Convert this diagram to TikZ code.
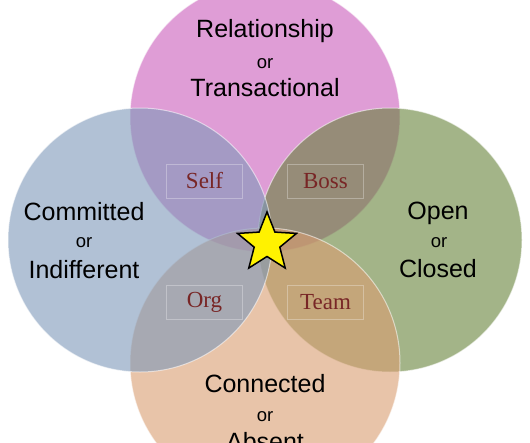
\documentclass[tikz,border=0pt]{standalone}
\usepackage{fontspec}
\setmainfont{Liberation Sans}
\newfontfamily\serifa{Liberation Serif}
\usetikzlibrary{shapes.geometric}
\definecolor{rosa}{RGB}{203,93,187}
\definecolor{azzurro}{RGB}{125,152,185}
\definecolor{verde}{RGB}{102,130,58}
\definecolor{pesca}{RGB}{218,157,113}
\definecolor{rosso}{RGB}{120,38,38}
\tikzset{
  cerchio/.style={fill opacity=0.6, draw=white, draw opacity=0.55, line width=1pt},
  titolo/.style={anchor=base, font=\fontsize{25}{25}\selectfont},
  oppure/.style={anchor=base, font=\fontsize{18.5}{18.5}\selectfont},
  zona/.style={draw=white, draw opacity=0.3, line width=0.6pt, minimum width=76pt, minimum height=34pt, inner sep=0pt, text=rosso, font=\serifa\fontsize{23}{23}\selectfont},
}
\begin{document}
\begin{tikzpicture}[x=1pt,y=-1pt]
        \useasboundingbox (0,0) rectangle (530,442);
        \clip (0,0) rectangle (530,442);
        \fill[white] (0,0) rectangle (530,442);
        % cerchi
        \filldraw[cerchio, fill=rosa] (265,117) circle (135);
        \filldraw[cerchio, fill=verde] (390,240) circle (132);
        \filldraw[cerchio, fill=pesca] (265,363) circle (135);
        \filldraw[cerchio, fill=azzurro] (140,240) circle (132);
        % titoli
        \node[titolo] (rel) at (265,37) {Relationship};
        \node[oppure] (relor) at (265,68) {or};
        \node[titolo] (tra) at (265,96) {Transactional};

        \node[titolo] (com) at (84,220) {Committed};
        \node[oppure] (comor) at (84,247) {or};
        \node[titolo] (ind) at (84,278) {Indifferent};

        \node[titolo] (ope) at (438,219) {Open};
        \node[oppure] (opeor) at (439,247) {or};
        \node[titolo] (clo) at (438,277) {Closed};

        \node[titolo] (con) at (265,392) {Connected};
        \node[oppure] (conor) at (265,421) {or};
        \node[titolo] (abs) at (265,450) {Absent};
        % zone
        \node[zona] (self) at (204.5,181) {Self};
        \node[zona] (boss) at (325.5,181) {Boss};
        \node[zona] (org) at (204.5,302.5) {Org};
        \node[zona] (team) at (325.5,302.5) {Team};
        % stella
        \node[star, star points=5, star point ratio=2.3, minimum size=62pt, inner sep=0pt, fill=yellow, draw=black, line width=1.5pt] (stella) at (267,243) {};
    \end{tikzpicture}
\end{document}
